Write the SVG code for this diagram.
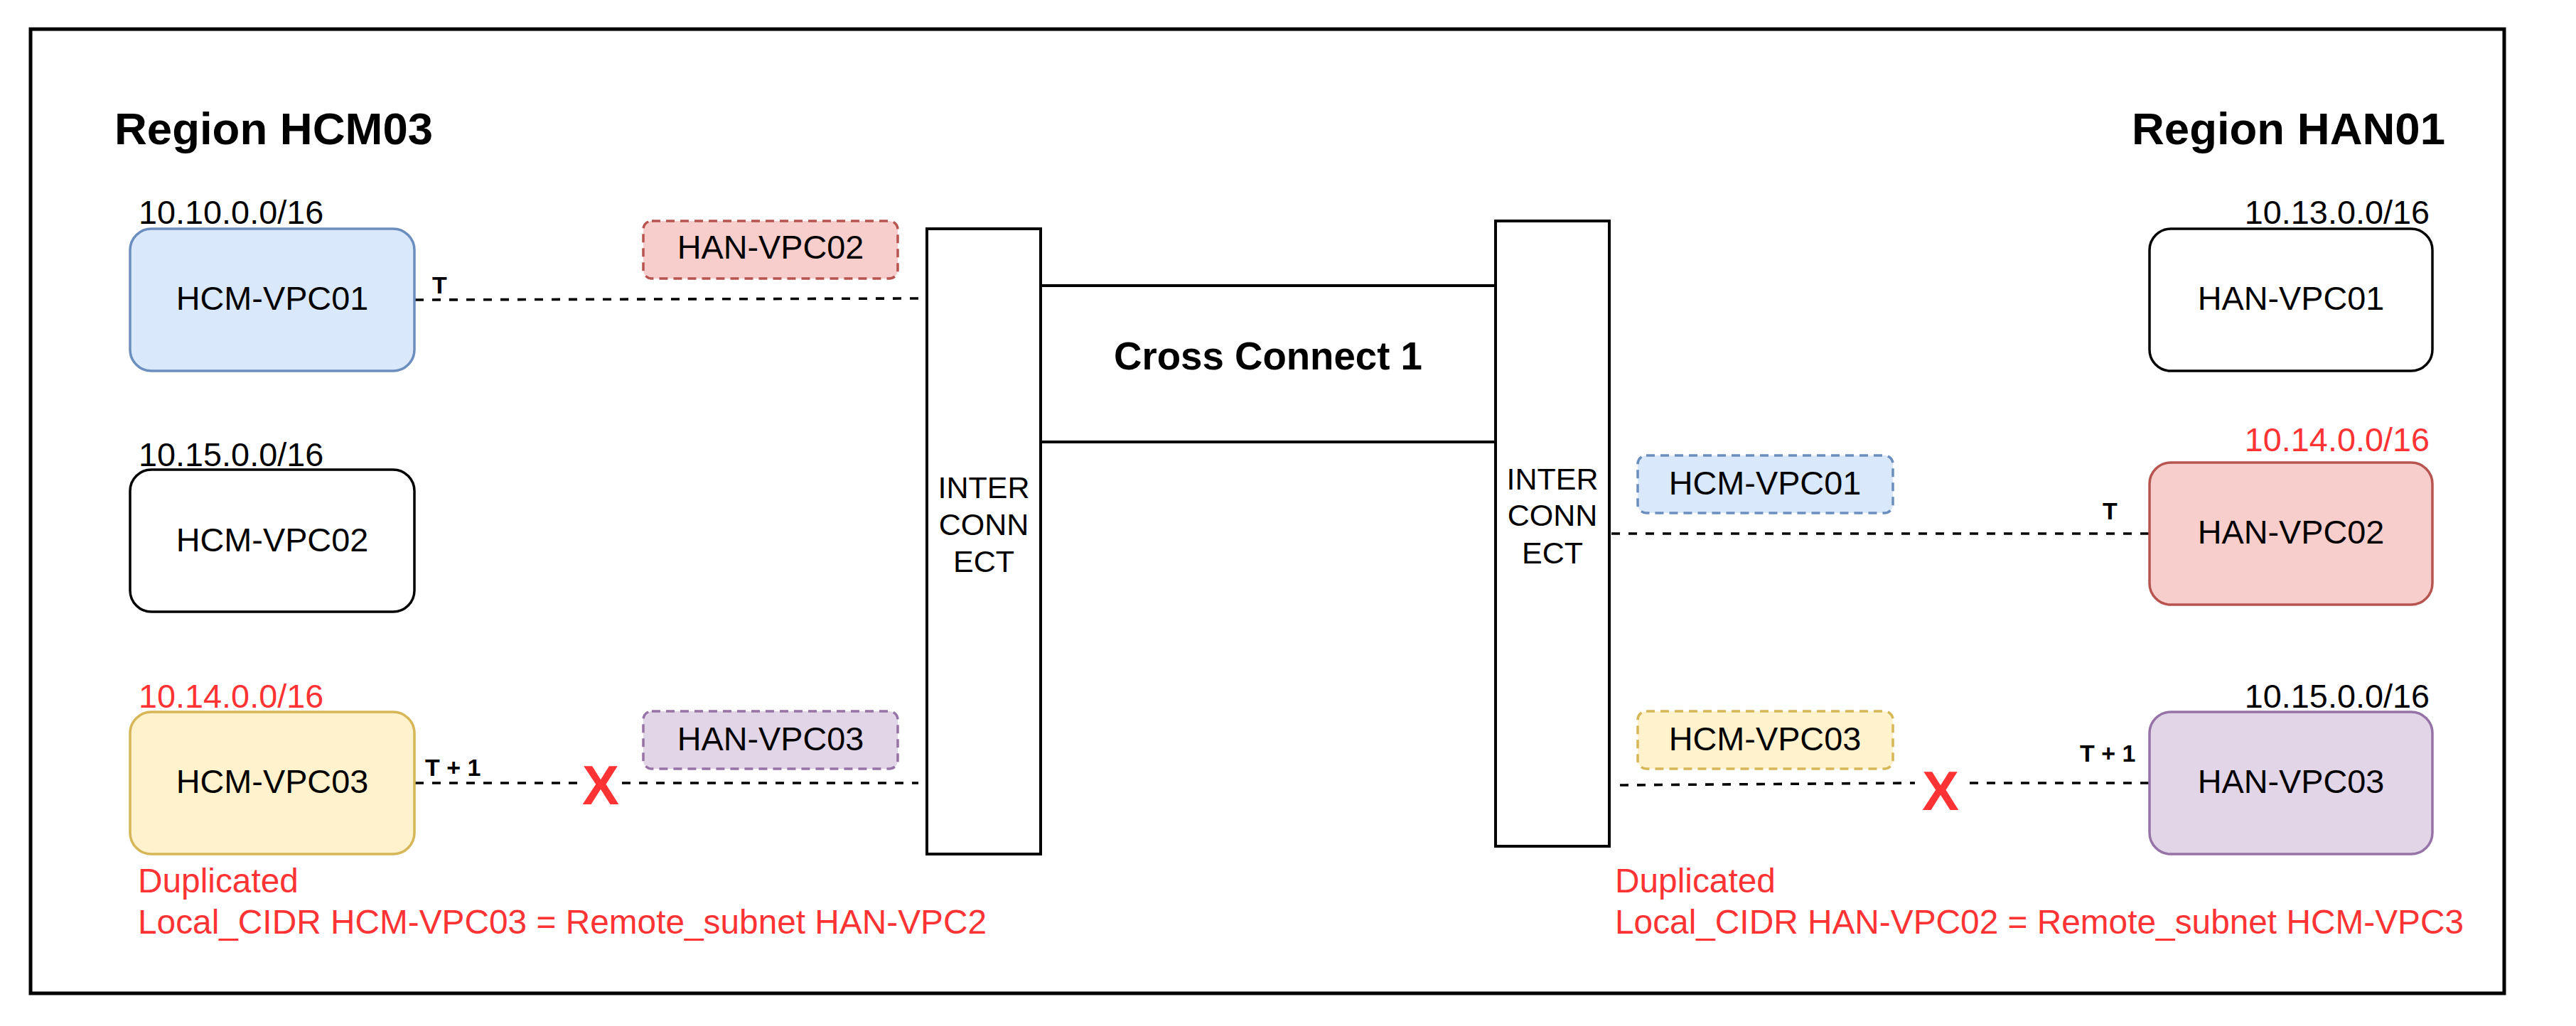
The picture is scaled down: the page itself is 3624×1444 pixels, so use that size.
<svg xmlns="http://www.w3.org/2000/svg" width="3624" height="1444" viewBox="0 0 3624 1444">
<style>
text{font-family:"Liberation Sans",Arial,Helvetica,sans-serif;fill:#000}
.region{font-size:63.5px;font-weight:bold}
.node{font-size:46.8px;text-anchor:middle}
.cidr{font-size:46.8px}
.dup{font-size:47.8px;fill:#FF3333}
.red{fill:#FF3333}
.ic{font-size:43px;text-anchor:middle}
.tl{font-size:34px;font-weight:bold}
.x{font-size:78px;font-weight:bold;fill:#FF3333;text-anchor:middle}
.vpc{stroke-width:3.5}
.lbl{stroke-width:3.5;stroke-dasharray:12 8}
.box{fill:#fff;stroke:#000;stroke-width:4}
.conn{fill:none;stroke:#000;stroke-width:3.6;stroke-dasharray:12 12}
</style>
<rect x="43" y="41" width="3480" height="1357" fill="#fff" stroke="#000" stroke-width="5"/>

<g id="region-hcm03"><text class="region" x="161" y="203">Region HCM03</text></g>
<g id="region-han01"><text class="region" x="3440" y="203" text-anchor="end">Region HAN01</text></g>

<g id="connectors">
<path class="conn" d="M584 422 L1292 420"/>
<path class="conn" d="M584 1102 H812 M875 1102 H1292"/>
<path class="conn" d="M2267 751 H3024"/>
<path class="conn" d="M2279 1105 L2694 1102 M2771 1102 H3024"/>
<text class="tl" x="608" y="413">T</text>
<text class="tl" x="598" y="1092">T + 1</text>
<text class="tl" x="2958" y="731">T</text>
<text class="tl" x="2926" y="1072">T + 1</text>
<text class="x" x="845" y="1132">X</text>
<text class="x" x="2730" y="1140">X</text>
</g>

<g id="hcm-vpc01">
<text class="cidr" x="195" y="315">10.10.0.0/16</text>
<rect class="vpc" x="183" y="322" width="400" height="200" rx="30" fill="#dae8fc" stroke="#6c8ebf"/>
<text class="node" x="383" y="436">HCM-VPC01</text>
</g>
<g id="hcm-vpc02">
<text class="cidr" x="195" y="656">10.15.0.0/16</text>
<rect class="vpc" x="183" y="661" width="400" height="200" rx="30" fill="#fff" stroke="#000"/>
<text class="node" x="383" y="776">HCM-VPC02</text>
</g>
<g id="hcm-vpc03">
<text class="cidr red" x="195" y="996">10.14.0.0/16</text>
<rect class="vpc" x="183" y="1002" width="400" height="200" rx="30" fill="#fff2cc" stroke="#d6b656"/>
<text class="node" x="383" y="1116">HCM-VPC03</text>
<text class="dup" x="194" y="1256">Duplicated</text>
<text class="dup" x="194" y="1314">Local_CIDR HCM-VPC03 = Remote_subnet HAN-VPC2</text>
</g>

<g id="label-han-vpc02">
<rect class="lbl" x="905" y="311" width="358" height="81" rx="12" fill="#f8cecc" stroke="#b85450"/>
<text class="node" x="1084" y="364">HAN-VPC02</text>
</g>
<g id="label-han-vpc03">
<rect class="lbl" x="905" y="1001" width="358" height="81" rx="12" fill="#e1d5e7" stroke="#9673a6"/>
<text class="node" x="1084" y="1056">HAN-VPC03</text>
</g>

<g id="cross-connect">
<rect x="1464" y="402" width="640" height="220" fill="#fff" stroke="#000" stroke-width="4"/>
<text x="1784" y="520" font-size="54.6" font-weight="bold" text-anchor="middle">Cross Connect 1</text>
</g>
<g id="interconnect-left">
<rect class="box" x="1304" y="322" width="160" height="880"/>
<text class="ic" x="1384" y="701">INTER</text>
<text class="ic" x="1384" y="753">CONN</text>
<text class="ic" x="1384" y="805">ECT</text>
</g>
<g id="interconnect-right">
<rect class="box" x="2104" y="311" width="160" height="880"/>
<text class="ic" x="2184" y="689">INTER</text>
<text class="ic" x="2184" y="740">CONN</text>
<text class="ic" x="2184" y="793">ECT</text>
</g>

<g id="label-hcm-vpc01">
<rect class="lbl" x="2304" y="641" width="359" height="81" rx="12" fill="#dae8fc" stroke="#6c8ebf"/>
<text class="node" x="2483" y="696">HCM-VPC01</text>
</g>
<g id="label-hcm-vpc03">
<rect class="lbl" x="2304" y="1001" width="359" height="81" rx="12" fill="#fff2cc" stroke="#d6b656"/>
<text class="node" x="2483" y="1056">HCM-VPC03</text>
</g>

<g id="han-vpc01">
<text class="cidr" x="3418" y="315" text-anchor="end">10.13.0.0/16</text>
<rect class="vpc" x="3024" y="322" width="398" height="200" rx="30" fill="#fff" stroke="#000"/>
<text class="node" x="3223" y="436">HAN-VPC01</text>
</g>
<g id="han-vpc02">
<text class="cidr red" x="3418" y="635" text-anchor="end">10.14.0.0/16</text>
<rect class="vpc" x="3024" y="651" width="398" height="200" rx="30" fill="#f8cecc" stroke="#b85450"/>
<text class="node" x="3223" y="765">HAN-VPC02</text>
</g>
<g id="han-vpc03">
<text class="cidr" x="3418" y="996" text-anchor="end">10.15.0.0/16</text>
<rect class="vpc" x="3024" y="1002" width="398" height="200" rx="30" fill="#e1d5e7" stroke="#9673a6"/>
<text class="node" x="3223" y="1116">HAN-VPC03</text>
<text class="dup" x="2272" y="1256">Duplicated</text>
<text class="dup" x="2272" y="1314">Local_CIDR HAN-VPC02 = Remote_subnet HCM-VPC3</text>
</g>
</svg>
